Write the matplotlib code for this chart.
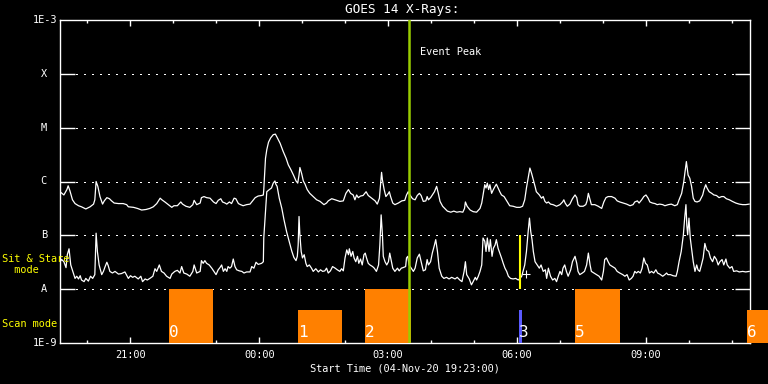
import numpy as np
import matplotlib
matplotlib.use("Agg")
import matplotlib.pyplot as plt
from matplotlib.ticker import FixedLocator, NullLocator, NullFormatter
from matplotlib.transforms import blended_transform_factory

# ---------------- data ----------------
# time in hours after the first sample (about 19:22 UT on 04-Nov-20)
t0_hour = 19 + 22 / 60

# long channel (1-8 A), log10 flux W/m^2
long_t = [
    0.00, 0.09, 0.16, 0.19, 0.23, 0.29, 0.35, 0.43, 0.50, 0.60, 0.70, 0.78, 0.81, 0.84, 0.88, 0.93,
    0.99, 1.03, 1.09, 1.15, 1.20, 1.26, 1.36, 1.47, 1.55, 1.59, 1.71, 1.80, 1.90, 2.00, 2.09, 2.17,
    2.25, 2.33, 2.37, 2.44, 2.52, 2.60, 2.65, 2.73, 2.81, 2.85, 2.93, 3.02, 3.09, 3.12, 3.18,
    3.26, 3.29, 3.35, 3.41, 3.49, 3.57, 3.63, 3.68, 3.74, 3.78, 3.84, 3.88, 3.94, 3.99, 4.05, 4.09,
    4.15, 4.20, 4.26, 4.34, 4.42, 4.48, 4.54, 4.61, 4.69, 4.73, 4.74, 4.78, 4.81, 4.85, 4.90, 4.96,
    5.01, 5.05, 5.12, 5.19, 5.26, 5.31, 5.37, 5.43, 5.49, 5.53, 5.56, 5.58, 5.62, 5.66, 5.70, 5.75,
    5.81, 5.89, 5.97, 6.05, 6.14, 6.20, 6.24, 6.32, 6.40,
    6.51, 6.59, 6.65, 6.71, 6.76, 6.82, 6.86, 6.90, 6.94, 6.99, 7.05, 7.12, 7.17, 7.25, 7.33, 7.38,
    7.43, 7.46, 7.48, 7.50, 7.54, 7.58, 7.64, 7.66, 7.69, 7.74, 7.79, 7.87, 7.95, 8.02, 8.06, 8.10,
    8.14, 8.20, 8.26, 8.31, 8.36, 8.40, 8.45, 8.51, 8.54, 8.57, 8.62, 8.66, 8.71, 8.76, 8.80, 8.84,
    8.90, 8.95, 9.01, 9.09, 9.16, 9.23, 9.30, 9.37, 9.41, 9.43, 9.47, 9.54, 9.61, 9.69,
    9.77, 9.81, 9.84, 9.88, 9.91, 9.94, 9.97, 10.00, 10.04, 10.08, 10.12, 10.15, 10.19, 10.23, 10.27,
    10.33, 10.39, 10.46, 10.54, 10.62, 10.70, 10.76, 10.81, 10.85, 10.89, 10.93, 10.97, 11.01, 11.05,
    11.08, 11.15, 11.20, 11.24, 11.28, 11.32, 11.36, 11.41, 11.47, 11.55, 11.63, 11.69, 11.72, 11.75,
    11.80, 11.86, 11.92, 11.98, 12.02, 12.05, 12.09, 12.17, 12.23, 12.26, 12.29, 12.33, 12.36, 12.44,
    12.52, 12.60, 12.65, 12.70, 12.75, 12.83, 12.91, 12.96,
    13.02, 13.10, 13.18, 13.26, 13.33, 13.37, 13.43, 13.47, 13.53, 13.58, 13.63, 13.68, 13.72, 13.78,
    13.84, 13.89, 13.95, 14.02, 14.07, 14.15, 14.22, 14.30, 14.36, 14.40, 14.46, 14.51, 14.54, 14.57,
    14.59, 14.61, 14.65, 14.69, 14.73, 14.77, 14.82, 14.88, 14.95, 14.98, 15.02, 15.05, 15.10, 15.16,
    15.21, 15.27, 15.33, 15.39, 15.44, 15.50, 15.57, 15.64, 15.72, 15.80, 15.88, 15.95, 16.03,
]
long_logflux = [
    -6.19, -6.25, -6.15, -6.08, -6.17, -6.34, -6.41, -6.45, -6.47, -6.51, -6.47, -6.42, -6.34, -6.00, -6.09, -6.28,
    -6.42, -6.36, -6.30, -6.32, -6.36, -6.40, -6.41, -6.41, -6.43, -6.47, -6.48, -6.50, -6.53, -6.52, -6.50, -6.47,
    -6.41, -6.31, -6.34, -6.38, -6.43, -6.48, -6.45, -6.45, -6.38, -6.42, -6.46, -6.48, -6.43, -6.35, -6.43,
    -6.40, -6.30, -6.28, -6.30, -6.31, -6.38, -6.41, -6.35, -6.32, -6.38, -6.40, -6.42, -6.38, -6.41, -6.31, -6.32,
    -6.41, -6.43, -6.45, -6.43, -6.42, -6.36, -6.30, -6.27, -6.26, -6.25, -6.15, -5.57, -5.41, -5.27, -5.19, -5.13,
    -5.12, -5.18, -5.29, -5.44, -5.57, -5.69, -5.78, -5.88, -5.99, -6.03, -5.88, -5.74, -5.85, -5.99, -6.05, -6.15,
    -6.22, -6.28, -6.34, -6.37, -6.43, -6.40, -6.36, -6.32, -6.34,
    -6.37, -6.36, -6.22, -6.15, -6.22, -6.25, -6.34, -6.25, -6.30, -6.27, -6.26, -6.19, -6.26, -6.31, -6.36, -6.42,
    -6.31, -6.03, -5.83, -5.97, -6.15, -6.28, -6.22, -6.19, -6.28, -6.40, -6.43, -6.40, -6.36, -6.35, -6.25, -6.19,
    -6.25, -6.32, -6.34, -6.26, -6.22, -6.26, -6.37, -6.36, -6.28, -6.34, -6.30, -6.25, -6.19, -6.09, -6.22, -6.37,
    -6.46, -6.50, -6.55, -6.57, -6.55, -6.57, -6.56, -6.57, -6.50, -6.38, -6.46, -6.53, -6.56, -6.57,
    -6.50, -6.40, -6.25, -6.06, -6.12, -6.03, -6.15, -6.06, -6.22, -6.15, -6.09, -6.05, -6.12, -6.19, -6.25,
    -6.28, -6.36, -6.45, -6.46, -6.48, -6.48, -6.46, -6.34, -6.12, -5.94, -5.75, -5.85, -5.97, -6.09,
    -6.19, -6.25, -6.31, -6.28, -6.37, -6.40, -6.38, -6.42, -6.43, -6.46, -6.43, -6.38, -6.34, -6.40,
    -6.46, -6.42, -6.32, -6.25, -6.30, -6.43, -6.46, -6.46, -6.43, -6.36, -6.22, -6.34, -6.43, -6.43,
    -6.46, -6.50, -6.38, -6.30, -6.28, -6.28, -6.31, -6.36,
    -6.38, -6.40, -6.42, -6.45, -6.43, -6.38, -6.36, -6.40, -6.34, -6.28, -6.25, -6.31, -6.38, -6.40,
    -6.41, -6.43, -6.42, -6.43, -6.45, -6.43, -6.42, -6.45, -6.43, -6.34, -6.22, -6.00, -5.81, -5.63,
    -5.75, -5.88, -5.94, -6.09, -6.31, -6.37, -6.38, -6.36, -6.25, -6.15, -6.06, -6.12, -6.19, -6.22,
    -6.25, -6.26, -6.30, -6.28, -6.28, -6.32, -6.34, -6.37, -6.40, -6.42, -6.43, -6.43, -6.42,
]

# short channel (0.5-4 A), log10 flux W/m^2
short_t = [
    0.00, 0.04, 0.09, 0.14, 0.17, 0.21, 0.25, 0.31, 0.35, 0.39, 0.43, 0.47, 0.50, 0.56, 0.60, 0.66,
    0.71, 0.76, 0.81, 0.84, 0.87, 0.91, 0.97, 1.01, 1.05, 1.09, 1.12, 1.16, 1.22, 1.28, 1.36, 1.43,
    1.51, 1.59, 1.64, 1.69, 1.74, 1.82, 1.88, 1.92, 1.98, 2.03, 2.09, 2.16, 2.21, 2.25, 2.31, 2.36,
    2.42, 2.48, 2.56, 2.60, 2.67, 2.73, 2.79, 2.83, 2.88, 2.95, 3.02, 3.09, 3.12, 3.18,
    3.26, 3.29, 3.33, 3.37, 3.41, 3.47, 3.53, 3.58, 3.63, 3.68, 3.72, 3.76, 3.80, 3.84, 3.88, 3.91,
    3.95, 3.99, 4.03, 4.07, 4.11, 4.17, 4.23, 4.28, 4.34, 4.42, 4.46, 4.51, 4.56, 4.61, 4.69, 4.73,
    4.74, 4.77, 4.81, 4.87, 4.92, 4.96, 5.00, 5.02, 5.05, 5.10, 5.16, 5.21, 5.27, 5.33, 5.39, 5.44,
    5.49, 5.52, 5.54, 5.56, 5.58, 5.61, 5.64, 5.68, 5.72, 5.75, 5.80, 5.85, 5.89, 5.95, 6.01, 6.06,
    6.11, 6.16, 6.20, 6.24, 6.29, 6.34, 6.40, 6.45,
    6.51, 6.55, 6.59, 6.63, 6.67, 6.71, 6.73, 6.77, 6.81, 6.84, 6.88, 6.92, 6.95, 6.99, 7.03, 7.07,
    7.10, 7.13, 7.17, 7.21, 7.27, 7.31, 7.36, 7.41, 7.44, 7.47, 7.50, 7.52, 7.56, 7.60, 7.64, 7.67,
    7.71, 7.74, 7.79, 7.85, 7.89, 7.94, 7.98, 8.04, 8.06, 8.09, 8.12, 8.17, 8.22, 8.26, 8.31, 8.36,
    8.40, 8.45, 8.50, 8.54, 8.57, 8.62, 8.66, 8.71, 8.74, 8.78, 8.82, 8.88, 8.93, 8.99, 9.05, 9.11,
    9.19, 9.24, 9.30, 9.35, 9.40, 9.43, 9.46, 9.52, 9.57, 9.61, 9.66, 9.69, 9.73,
    9.77, 9.81, 9.84, 9.88, 9.91, 9.94, 9.98, 10.01, 10.05, 10.08, 10.12, 10.15, 10.19, 10.23, 10.27,
    10.31, 10.35, 10.39, 10.43, 10.48, 10.54, 10.60, 10.66, 10.70, 10.74, 10.77, 10.81, 10.85, 10.89,
    10.92, 10.95, 10.98, 11.01, 11.05, 11.10, 11.15, 11.19, 11.24, 11.29, 11.32, 11.36, 11.41, 11.46,
    11.51, 11.55, 11.59, 11.63, 11.67, 11.70, 11.74, 11.78, 11.82, 11.88, 11.92, 11.98, 12.02, 12.05,
    12.09, 12.15, 12.20, 12.25, 12.29, 12.33, 12.36, 12.42, 12.48, 12.54, 12.60, 12.64, 12.67, 12.71,
    12.75, 12.79, 12.85, 12.91, 12.96,
    13.02, 13.09, 13.14, 13.19, 13.24, 13.29, 13.33, 13.37, 13.41, 13.45, 13.50, 13.54, 13.58, 13.62,
    13.66, 13.71, 13.76, 13.81, 13.86, 13.90, 13.95, 14.02, 14.07, 14.11, 14.14, 14.20, 14.26, 14.33,
    14.36, 14.40, 14.45, 14.50, 14.53, 14.56, 14.58, 14.60, 14.63, 14.66, 14.69, 14.73, 14.77, 14.81,
    14.84, 14.88, 14.92, 14.96, 15.00, 15.04, 15.09, 15.13, 15.18, 15.22, 15.27, 15.31, 15.35, 15.40,
    15.44, 15.49, 15.52, 15.58, 15.63, 15.67, 15.74, 15.80, 15.88, 15.95, 16.03,
]
short_logflux = [
    -7.49, -7.45, -7.49, -7.60, -7.36, -7.25, -7.55, -7.70, -7.80, -7.76, -7.81, -7.75, -7.83, -7.86, -7.80, -7.85,
    -7.76, -7.80, -7.73, -6.96, -7.30, -7.55, -7.73, -7.67, -7.58, -7.50, -7.56, -7.67, -7.70, -7.67, -7.72, -7.71,
    -7.68, -7.80, -7.75, -7.78, -7.76, -7.81, -7.76, -7.86, -7.81, -7.83, -7.80, -7.76, -7.62, -7.67, -7.55, -7.67,
    -7.70, -7.76, -7.80, -7.72, -7.67, -7.65, -7.70, -7.58, -7.70, -7.72, -7.76, -7.67, -7.55, -7.70,
    -7.67, -7.47, -7.52, -7.47, -7.52, -7.55, -7.61, -7.67, -7.73, -7.64, -7.60, -7.55, -7.67, -7.62, -7.67, -7.58,
    -7.61, -7.58, -7.44, -7.58, -7.64, -7.66, -7.67, -7.70, -7.68, -7.68, -7.58, -7.61, -7.50, -7.54, -7.52, -7.49,
    -7.05, -6.68, -6.19, -6.15, -6.12, -6.03, -5.99, -6.05, -6.09, -6.31, -6.50, -6.71, -6.93, -7.11, -7.29, -7.41,
    -7.47, -7.39, -7.18, -6.65, -6.99, -7.30, -7.42, -7.36, -7.52, -7.58, -7.55, -7.61, -7.67, -7.62, -7.68, -7.64,
    -7.67, -7.66, -7.61, -7.70, -7.66, -7.58, -7.61, -7.64,
    -7.67, -7.62, -7.66, -7.42, -7.27, -7.36, -7.25, -7.39, -7.30, -7.42, -7.49, -7.39, -7.52, -7.44, -7.55, -7.36,
    -7.33, -7.42, -7.52, -7.55, -7.58, -7.61, -7.67, -7.55, -7.18, -6.62, -6.99, -7.39, -7.49, -7.55, -7.49, -7.33,
    -7.49, -7.61, -7.67, -7.61, -7.66, -7.61, -7.60, -7.58, -7.42, -7.39, -7.55, -7.61, -7.67, -7.61, -7.42, -7.35,
    -7.49, -7.66, -7.64, -7.45, -7.55, -7.49, -7.33, -7.18, -7.08, -7.30, -7.61, -7.76, -7.80, -7.78, -7.81, -7.78,
    -7.81, -7.78, -7.83, -7.86, -7.67, -7.49, -7.73, -7.81, -7.92, -7.86, -7.78, -7.83, -7.76,
    -7.67, -7.55, -7.05, -7.11, -7.30, -7.05, -7.30, -7.08, -7.39, -7.24, -7.18, -7.08, -7.24, -7.33, -7.42,
    -7.52, -7.61, -7.67, -7.76, -7.80, -7.81, -7.80, -7.83, -7.80, -7.76, -7.67, -7.55, -7.30, -6.93,
    -6.68, -6.93, -7.08, -7.30, -7.49, -7.55, -7.61, -7.55, -7.67, -7.64, -7.80, -7.61, -7.76, -7.83,
    -7.80, -7.86, -7.76, -7.67, -7.73, -7.61, -7.55, -7.67, -7.76, -7.64, -7.49, -7.39, -7.52, -7.67,
    -7.73, -7.70, -7.67, -7.55, -7.33, -7.55, -7.67, -7.70, -7.73, -7.76, -7.83, -7.67, -7.45, -7.42,
    -7.49, -7.55, -7.58, -7.61, -7.67,
    -7.70, -7.73, -7.76, -7.73, -7.83, -7.80, -7.76, -7.67, -7.70, -7.67, -7.70, -7.61, -7.42, -7.52,
    -7.55, -7.70, -7.67, -7.70, -7.64, -7.70, -7.72, -7.76, -7.73, -7.70, -7.73, -7.73, -7.75, -7.76,
    -7.67, -7.49, -7.30, -6.99, -6.68, -6.43, -6.81, -6.99, -6.68, -7.05, -7.24, -7.49, -7.67, -7.55,
    -7.64, -7.67, -7.55, -7.42, -7.15, -7.27, -7.30, -7.42, -7.49, -7.39, -7.45, -7.55, -7.49, -7.45,
    -7.55, -7.44, -7.55, -7.61, -7.58, -7.67, -7.66, -7.68, -7.67, -7.68, -7.67,
]

# GOES class levels
level_flux = [1e-8, 1e-7, 1e-6, 1e-5, 1e-4]
level_labels = ["A", "B", "C", "M", "X"]
end_flux = [1e-9, 1e-3]
end_labels = ["1E-9", "1E-3"]

# observing-mode (scan) blocks
scan_ids = ["0", "1", "2", "3", "5", "6"]
scan_start = [2.53, 5.53, 7.09, 10.67, 11.98, 15.98]
scan_end = [3.55, 6.57, 8.16, 10.74, 13.02, 16.50]
scan_top = [1e-8, 4.1e-9, 1e-8, 4.1e-9, 1e-8, 4.1e-9]
scan_colors = ["#ff8000", "#ff8000", "#ff8000", "#5a5aff", "#ff8000", "#ff8000"]

event_peak_t = 8.12
sit_stare_t = 10.71
sit_stare_range = [1e-8, 1e-7]
marker_t = 10.83
marker_logflux = -7.71

x_range = [0.0, 16.05]

# ---------------- plotting ----------------
plt.rcParams["font.family"] = ["DejaVu Sans Mono", "DejaVu Sans"]

W, H = 768, 384
fig = plt.figure(figsize=(W / 100, H / 100), dpi=100, facecolor="black")
ax = fig.add_axes([60 / W, 1 - 343 / H, 690 / W, 323 / H])
ax.set_facecolor("black")
ax.set_yscale("log")
ax.set_ylim(end_flux[0], end_flux[1])
ax.set_xlim(*x_range)

for s in ax.spines.values():
    s.set_color("white")
    s.set_linewidth(1.0)

# y ticks: long inward ticks on both sides, no labels (drawn as text)
ax.yaxis.set_major_locator(FixedLocator(level_flux))
ax.yaxis.set_minor_locator(NullLocator())
ax.yaxis.set_major_formatter(NullFormatter())
ax.tick_params(axis="y", which="both", direction="in", length=10.5, width=1.0,
               color="white", left=True, right=True, labelleft=False)

# dotted class lines
for lv in level_flux:
    ax.axhline(lv, color="white", lw=0.75, linestyle=(0, (1, 6)), zorder=1,
               antialiased=False)

# x ticks: hourly minor, 3-hourly major labelled HH:00
hours = np.arange(20, 36)
tick_pos = hours - t0_hour
major = [p for h, p in zip(hours, tick_pos) if h % 3 == 0]
major_lab = ["%02d:00" % (h % 24) for h in hours if h % 3 == 0]
minor = [p for h, p in zip(hours, tick_pos) if h % 3 != 0]
ax.xaxis.set_major_locator(FixedLocator(major))
ax.set_xticklabels(major_lab)
ax.xaxis.set_minor_locator(FixedLocator(minor))
ax.tick_params(axis="x", which="major", direction="in", length=4.5, width=1.0,
               color="white", labelcolor="white", labelsize=7.4, top=True, bottom=True, pad=5)
ax.tick_params(axis="x", which="minor", direction="in", length=2.5, width=1.0,
               color="white", top=True, bottom=True)

# flux curves
ax.plot(long_t, 10 ** np.array(long_logflux), color="white", lw=0.9, zorder=3)
ax.plot(short_t, 10 ** np.array(short_logflux), color="white", lw=0.9, zorder=3)

# scan blocks
for sid, a, b, top, c in zip(scan_ids, scan_start, scan_end, scan_top, scan_colors):
    ax.bar(a, top - end_flux[0], bottom=end_flux[0], width=b - a, align="edge",
           color=c, linewidth=0, zorder=5, clip_on=False)
    ax.annotate(sid, xy=(a, end_flux[0]), xytext=(0, 2.5), textcoords="offset points",
                ha="left", va="bottom", color="white", fontsize=11.5, zorder=7,
                annotation_clip=False)

# event peak line
ax.axvline(event_peak_t, color="#99cc00", lw=1.8, zorder=6)
ax.annotate("Event Peak", xy=(event_peak_t, 1), xycoords=("data", "axes fraction"),
            xytext=(7.5, -23), textcoords="offset points", ha="left", va="center",
            color="white", fontsize=7.4)

# sit & stare marker
ax.vlines(sit_stare_t, sit_stare_range[0], sit_stare_range[1], color="yellow", lw=1.5, zorder=6)
ax.plot([marker_t], [10 ** marker_logflux], marker="+", color="white", ms=6, mew=0.8,
        linestyle="none", zorder=7)

# y labels
tr = blended_transform_factory(fig.transFigure, ax.transData)
for lv, lab in zip(level_flux, level_labels):
    fig.text(43.7 / W, lv, lab, transform=tr, ha="center", va="center",
             color="white", fontsize=7.4)
for lv, lab in zip(end_flux, end_labels):
    fig.text(57 / W, lv, lab, transform=tr, ha="right", va="center",
             color="white", fontsize=7.4)

# side annotations
fig.text(2 / W, 1 - 264.5 / H, "Sit & Stare\n  mode", ha="left", va="center",
         color="yellow", fontsize=7.4, linespacing=1.15)
fig.text(2 / W, 1 - 324 / H, "Scan mode", ha="left", va="center",
         color="yellow", fontsize=7.4)

# title and x label
fig.text(402 / W, 1 - 9.5 / H, "GOES 14 X-Rays:", ha="center", va="center",
         color="white", fontsize=9.2)
fig.text(405 / W, 1 - 368.5 / H, "Start Time (04-Nov-20 19:23:00)", ha="center",
         va="center", color="white", fontsize=7.4)

fig.savefig("out.png", dpi=100, facecolor="black")
